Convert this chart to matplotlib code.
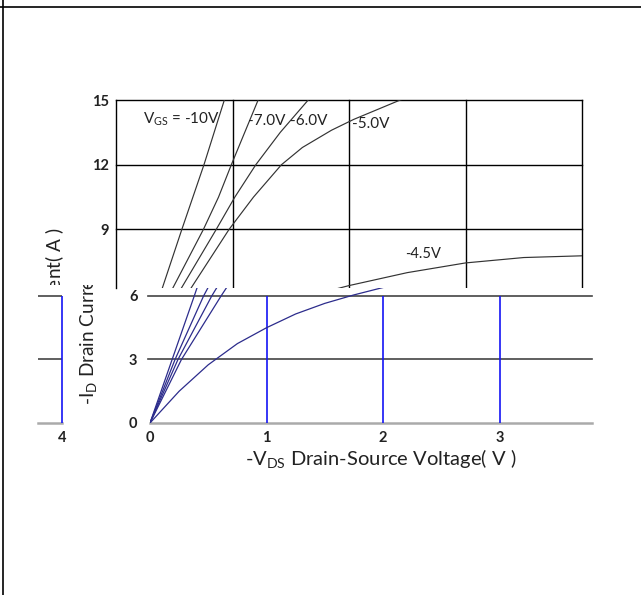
import matplotlib
matplotlib.use('Agg')
import matplotlib.pyplot as plt
from matplotlib.transforms import Bbox, TransformedBbox
from matplotlib.lines import Line2D

plt.rcParams['font.family'] = ['Lato', 'DejaVu Sans']
plt.rcParams['mathtext.default'] = 'regular'

# -Id (A) against -Vds (V), one pair of lists per gate voltage
v_10 = [0, 0.19, 0.38, 0.565, 0.66, 0.755, 0.93, 1.0]
i_10 = [0, 3.0, 6.0, 9.0, 10.5, 12.0, 15.0, 16.2]
v_7 = [0, 0.215, 0.46, 0.75, 0.88, 0.99, 1.22, 1.3]
i_7 = [0, 3.0, 6.0, 9.0, 10.5, 12.0, 15.0, 16.0]
v_6 = [0, 0.24, 0.53, 0.86, 1.02, 1.20, 1.41, 1.65, 1.75]
i_6 = [0, 3.0, 6.0, 9.0, 10.5, 12.0, 13.5, 15.0, 15.6]
v_5 = [0, 0.27, 0.61, 0.97, 1.18, 1.42, 1.6, 1.85, 2.04, 2.44, 2.6]
i_5 = [0, 3.0, 6.0, 9.0, 10.5, 12.0, 12.8, 13.6, 14.1, 15.0, 15.3]
v_45 = [0, 0.25, 0.5, 0.75, 1.0, 1.25, 1.5, 1.75, 2.0, 2.5, 3.0, 3.5, 4.0]
i_45 = [0, 1.5, 2.75, 3.75, 4.5, 5.15, 5.65, 6.05, 6.4, 7.0, 7.45, 7.7, 7.78]

curves = [(v_10, i_10), (v_7, i_7), (v_6, i_6), (v_5, i_5), (v_45, i_45)]
curve_labels = ['V$_{GS}$ = -10V', '-7.0V', '-6.0V', '-5.0V', '-4.5V']

x_ticks_top = [1, 2, 3]
y_ticks_top = [9, 12, 15]
x_ticks_bot = [0, 1, 2, 3]
y_ticks_bot = [0, 3, 6]

x_label = '-V$_{DS}$ Drain-Source Voltage( V )'
y_label = '-I$_{D}$ Drain Current( A )'

W, H = 641, 595
fig = plt.figure(figsize=(W / 100, H / 100), dpi=100)


def px_axes(left, top, right, bottom):
    return fig.add_axes([left / W, 1 - bottom / H, (right - left) / W, (bottom - top) / H])


def clip_rows(artist, top, bottom):
    box = TransformedBbox(Bbox([[0, 1 - bottom / H], [1, 1 - top / H]]), fig.transFigure)
    artist.set_clip_on(True)
    artist.set_clip_box(box)


# page frame
fig.add_artist(Line2D([0, 1], [1 - 6.5 / H, 1 - 6.5 / H], color='black', lw=1.2))
fig.add_artist(Line2D([2.5 / W, 2.5 / W], [0, 1], color='black', lw=1.2))

CUT = 288  # row where the picture is torn

# upper part of the chart (shifted left)
ax_top = px_axes(116, 100, 582, CUT)
ax_top.set_xlim(0, 4)
ax_top.set_ylim(15 - (CUT - 100) / 21.58, 15)
for s in ax_top.spines.values():
    s.set_visible(False)
for x in [0] + x_ticks_top + [4]:
    ax_top.axvline(x, color='black', lw=1.0, clip_on=False)
for y in y_ticks_top:
    ax_top.axhline(y, color='black', lw=1.0, clip_on=False)
for v, i in curves:
    ax_top.plot(v, i, color='#333333', lw=0.85)
ax_top.set_xticks([])
ax_top.set_yticks(y_ticks_top)
ax_top.tick_params(length=0, pad=5, labelsize=10.5, labelcolor='#222222')
for t in ax_top.get_yticklabels():
    t.set_fontweight('bold')

label_pos = [(0.23, 14.1), (1.13, 14.05), (1.49, 14.05), (2.03, 13.9), (2.48, 7.85)]
for (x, y), txt in zip(label_pos, curve_labels):
    ax_top.text(x, y, txt, fontsize=11 if x < 2.4 else 10.5, ha='left', va='center',
                color='#222222', clip_on=False)

yl_top = fig.text(55 / W, 1 - 316 / H, y_label, rotation=90, ha='center', va='center',
                  fontsize=13.7, color='#222222')
clip_rows(yl_top, 0, CUT - 3)

# lower part of the chart
px_v, px_a = 116.5, 21.17
ax_bot = px_axes(150, CUT, 592, 423)
ax_bot.set_xlim(0, 442 / px_v)
ax_bot.set_ylim(0, (423 - CUT) / px_a)
for s in ax_bot.spines.values():
    s.set_visible(False)
ax_bot.axhline(6, color='#444444', lw=1.2, clip_on=False, xmin=-0.005)
ax_bot.axhline(3, color='#444444', lw=1.2, clip_on=False, xmin=-0.005)
ax_bot.axhline(0, color='#aaaaaa', lw=1.8, clip_on=False)
ax_bot.vlines(x_ticks_top, 0, 6, colors='#1414f5', lw=1.2)
for v, i in curves:
    ax_bot.plot(v, i, color='#2c2c8c', lw=0.9)
ax_bot.set_xticks(x_ticks_bot)
ax_bot.set_yticks(y_ticks_bot)
ax_bot.tick_params(axis='y', length=0, pad=9, labelsize=10.5, labelcolor='#222222')
ax_bot.tick_params(axis='x', length=0, pad=6, labelsize=10.5, labelcolor='#222222')
for t in ax_bot.get_xticklabels() + ax_bot.get_yticklabels():
    t.set_fontweight('bold')

yl_bot = fig.text(87 / W, 1 - 316 / H, y_label, rotation=90, ha='center', va='center',
                  fontsize=13.7, color='#222222')
clip_rows(yl_bot, CUT - 3, H)

fig.text(381 / W, 1 - 458 / H, x_label, ha='center', va='center', fontsize=14.5, color='#222222')

# right edge of the lower part, wrapped round to the left side
ax_wrap = px_axes(38, CUT, 62, 423)
ax_wrap.set_xlim(442 / px_v, 4)
ax_wrap.set_ylim(0, (423 - CUT) / px_a)
for s in ax_wrap.spines.values():
    s.set_visible(False)
ax_wrap.axhline(6, color='#444444', lw=1.2)
ax_wrap.axhline(3, color='#444444', lw=1.2)
ax_wrap.axhline(0, color='#aaaaaa', lw=1.8, clip_on=False)
ax_wrap.vlines([4], 0, 6, colors='#1414f5', lw=1.2, clip_on=False)
ax_wrap.set_xticks([4])
ax_wrap.set_yticks([])
ax_wrap.tick_params(axis='x', length=0, pad=6, labelsize=10.5, labelcolor='#222222')
for t in ax_wrap.get_xticklabels():
    t.set_fontweight('bold')

fig.savefig('out.png', dpi=100)
